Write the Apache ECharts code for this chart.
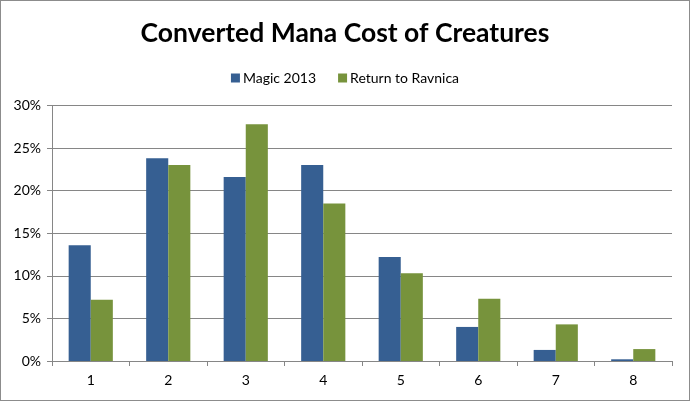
<!DOCTYPE html>
<html>
<head>
<meta charset="utf-8">
<script src="https://cdn.jsdelivr.net/npm/echarts@6/dist/echarts.min.js"></script>
<style>
html,body{margin:0;padding:0;background:#fff;}
#wrap{width:690px;height:401px;box-sizing:border-box;border:1px solid #8c8c8c;}
#chart{width:688px;height:399px;}
</style>
</head>
<body>
<div id="wrap"><div id="chart"></div></div>
<script>
const categories = ['1','2','3','4','5','6','7','8'];
const magic2013 = [13.6, 23.8, 21.6, 23.0, 12.2, 4.0, 1.3, 0.2];
const returnToRavnica = [7.2, 23.0, 27.8, 18.5, 10.3, 7.3, 4.3, 1.4];
const seriesNames = ['Magic 2013', 'Return to Ravnica'];

const font = 'Lato, "Open Sans", sans-serif';
const chart = echarts.init(document.getElementById('chart'));
chart.setOption({
  animation: false,
  title: {
    text: 'Converted Mana Cost of Creatures',
    left: 'center',
    top: 14,
    textStyle: {fontFamily: font, fontWeight: 'bold', fontSize: 26.5, color: '#000'}
  },
  legend: {
    data: seriesNames,
    top: 65,
    left: 'center',
    itemWidth: 9,
    itemHeight: 9,
    itemGap: 22,
    icon: 'rect',
    textStyle: {fontFamily: font, fontSize: 14, color: '#000', padding: [0,0,0,-2]}
  },
  grid: {left: 51, right: 17, top: 104.5, bottom: 39, containLabel: false},
  xAxis: {
    type: 'category',
    data: categories,
    axisLine: {lineStyle: {color: '#868686'}},
    axisTick: {show: true, length: 5, lineStyle: {color: '#868686'}},
    axisLabel: {fontFamily: font, fontSize: 14, color: '#000', margin: 12}
  },
  yAxis: {
    type: 'value',
    min: 0, max: 30, interval: 5,
    axisLine: {show: true, lineStyle: {color: '#868686'}},
    axisTick: {show: true, length: 5, lineStyle: {color: '#868686'}},
    axisLabel: {fontFamily: font, fontSize: 14, color: '#000', margin: 11, formatter: v => v + '%'},
    splitLine: {lineStyle: {color: '#868686'}}
  },
  series: [
    {name: seriesNames[0], type: 'bar', data: magic2013, barGap: '0%', barCategoryGap: '43%',
     itemStyle: {color: '#365F92'}},
    {name: seriesNames[1], type: 'bar', data: returnToRavnica, barGap: '0%', barCategoryGap: '43%',
     itemStyle: {color: '#77933C'}}
  ]
});
</script>
</body>
</html>
